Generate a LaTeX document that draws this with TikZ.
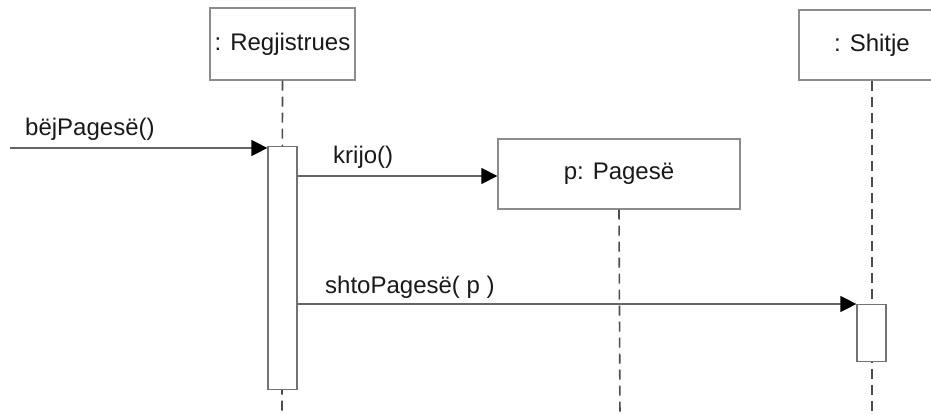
\documentclass[tikz,border=0pt]{standalone}
\usepackage{fontspec}
\setmainfont{Liberation Sans}
\usetikzlibrary{arrows.meta}
\begin{document}
\begin{tikzpicture}[x=1pt,y=-1pt,
  objbox/.style={draw=black!45,line width=1.3pt,fill=white,inner sep=0pt,font=\fontsize{24}{27}\selectfont,text=black!90},
  actbox/.style={draw=black!55,line width=1.2pt,fill=white,inner sep=0pt,minimum width=29pt},
  lifeline/.style={draw=black!70,line width=1.6pt,dash pattern=on 10pt off 6pt},
  msg/.style={draw=black!60,line width=1.2pt,-{Triangle[length=16pt,width=16pt,color=black]}},
  lbl/.style={font=\fontsize{24}{27}\selectfont,text=black!90,inner sep=0pt,anchor=base west}]
\useasboundingbox (0,0) rectangle (931,414);
\clip (0,0) rectangle (931,414);
% object boxes
\node[objbox,minimum width=145pt,minimum height=72pt] (reg) at (282.5,44) {: Regjistrues};
\node[objbox,minimum width=146pt,minimum height=70pt] (shi) at (872,45) {: Shitje\vphantom{g}};
\node[objbox,minimum width=242pt,minimum height=70pt] (pag) at (619,174) {p: Pagesë};
% lifeline ends
\coordinate (regend) at (282,420);
\coordinate (shiend) at (872,420);
\coordinate (pagend) at (620,420);
\draw[lifeline] (reg.south) -- (regend);
\draw[lifeline] (shi.south) -- (shiend);
\draw[lifeline] (pag.south) -- (pagend);
% activations
\node[actbox,minimum height=243pt,anchor=north] (act1) at (282.5,146) {};
\node[actbox,minimum height=57pt,anchor=north] (act2) at (871.5,304) {};
% messages
\coordinate (src) at (10,148);
\draw[msg] (src) -- (act1.west |- src);
\node[lbl] (l1) at (25,136) {bëjPagesë()};
\coordinate (k) at (0,176);
\draw[msg] (act1.east |- k) -- (pag.west |- k);
\node[lbl] (l2) at (333,164) {krijo()};
\draw[msg] (act1.east |- act2.north) -- (act2.north west);
\node[lbl] (l3) at (325,293) {shtoPagesë( p )};
\end{tikzpicture}
\end{document}
